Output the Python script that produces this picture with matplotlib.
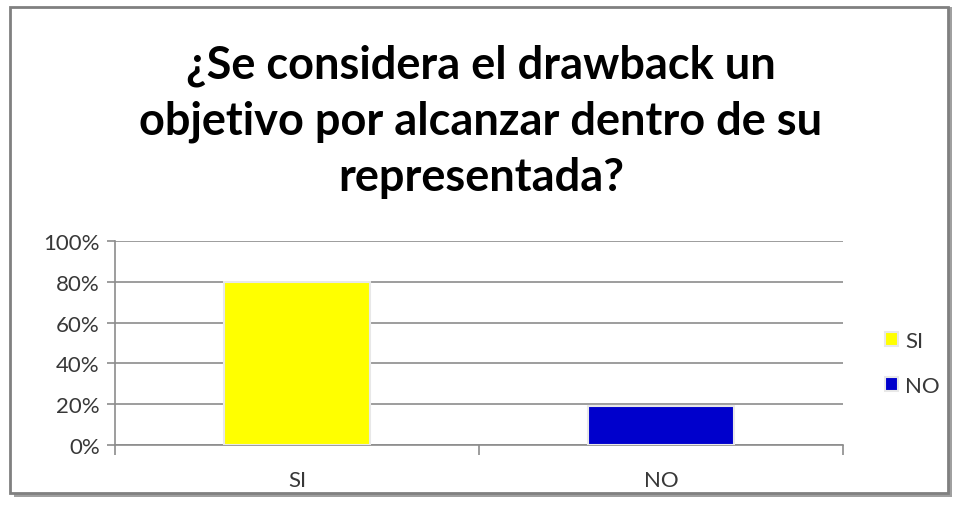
import matplotlib.pyplot as plt
from matplotlib.patches import Rectangle
from matplotlib.ticker import PercentFormatter

# datos
categorias = ['SI', 'NO']
valores = [0.80, 0.19]
colores = ['#FFFF00', '#0000CC']
titulo = '¿Se considera el drawback un\nobjetivo por alcanzar dentro de su\nrepresentada?'

plt.rcParams['font.family'] = ['Lato', 'DejaVu Sans']

fig = plt.figure(figsize=(9.62, 5.06), dpi=100)

# marco del grafico con sombra
fig.patches.append(Rectangle((14 / 962, 8 / 506), 938 / 962, 490 / 506, transform=fig.transFigure,
                             facecolor='#a0a0a0', edgecolor='none', zorder=0))
fig.patches.append(Rectangle((10 / 962, 12 / 506), 938 / 962, 486 / 506, transform=fig.transFigure,
                             facecolor='white', edgecolor='#808080', linewidth=2, zorder=1))

ax = fig.add_axes([115 / 962, 60 / 506, 728 / 962, 204 / 506])
ax.set_zorder(5)
ax.patch.set_visible(False)
x = range(len(categorias))
for i, (c, v, col) in enumerate(zip(categorias, valores, colores)):
    ax.bar(i, v, width=0.4, color=col, edgecolor='#e8e8e8', linewidth=1.5, label=c, zorder=3)

ax.set_xlim(-0.5, 1.5)
ax.set_ylim(0, 1)
ax.set_yticks([0, 0.2, 0.4, 0.6, 0.8, 1.0])
ax.yaxis.set_major_formatter(PercentFormatter(1.0, decimals=0))
ax.grid(axis='y', color='#8c8c8c', linewidth=1.2, zorder=0)
ax.set_xticks([-0.5, 0.5, 1.5])
ax.set_xticklabels([])
ax.set_xticks(list(x), minor=True)
ax.set_xticklabels(categorias, minor=True)
ax.tick_params(axis='x', which='major', length=7, color='#8c8c8c', width=1.2)
ax.tick_params(axis='x', which='minor', length=0, pad=18, labelsize=16, labelcolor='#383838')
ax.tick_params(axis='y', length=6, color='#8c8c8c', width=1.2, labelsize=16, labelcolor='#383838', pad=5)
for s in ['top', 'right']:
    ax.spines[s].set_visible(False)
ax.spines['left'].set_color('#8c8c8c')
ax.spines['left'].set_linewidth(1.2)
ax.spines['bottom'].set_color('#8c8c8c')
ax.spines['bottom'].set_linewidth(1.2)

ax.legend(loc='center left', bbox_to_anchor=(1.03, 0.40), frameon=False, fontsize=16,
          handlelength=0.6, handleheight=0.6, handletextpad=0.3, labelspacing=1.1, labelcolor='#383838')

# titulo centrado en la parte superior
fig.text(0.5, 1 - 122 / 506, titulo, ha='center', va='center', fontsize=32.5, fontweight='bold',
         linespacing=1.4, zorder=5)

fig.savefig('out.png', dpi=100)
